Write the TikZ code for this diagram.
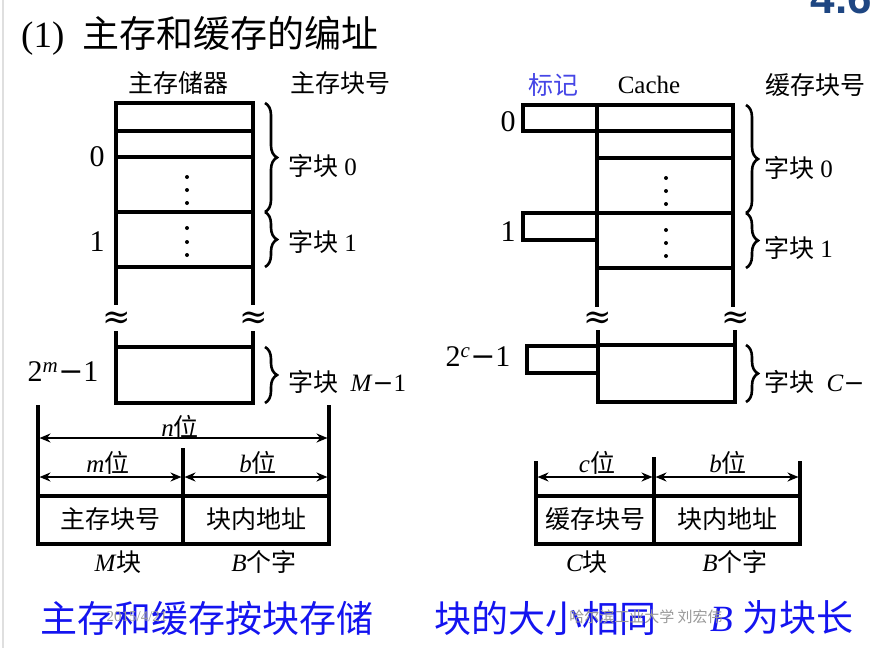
\documentclass[tikz,border=0pt]{standalone}
\usepackage{fontspec}
\setmainfont{Liberation Serif}
\newfontfamily\cjk{Noto Sans CJK SC}
\newfontfamily\numfont{Liberation Sans}
\newfontfamily\symfont{DejaVu Serif}
\usetikzlibrary{arrows.meta,decorations.pathreplacing}
\newcommand{\zh}[1]{{\cjk #1}}
\newcommand{\fs}[1]{\fontsize{#1}{#1}\selectfont}
\newcommand{\mn}{{\symfont −}}
\definecolor{blueTxt}{RGB}{20,20,240}
\definecolor{tagBlue}{RGB}{70,70,230}
\definecolor{numBlue}{RGB}{30,70,130}
\tikzset{
  frame/.style={line width=3.6pt, line cap=rect},
  brc/.style={decorate, decoration={brace, amplitude=12pt}, line width=2.6pt},
  dim/.style={line width=2.8pt, {Stealth[length=11pt,width=9pt]}-{Stealth[length=11pt,width=9pt]}},
  ext/.style={line width=3.2pt},
  lbl/.style={inner sep=0pt, font=\fs{25}},
  big/.style={inner sep=0pt, font=\fs{30}},
  apx/.style={inner sep=0pt, font=\symfont\fs{34}},
  head/.style={inner sep=0pt, font=\fs{25}},
  blu/.style={inner sep=0pt, font=\fs{37}, text=blueTxt},
  wm/.style={inner sep=0pt, font=\fs{15}, text=gray!80},
}
\begin{document}
\begin{tikzpicture}[x=1pt,y=-1pt]
\useasboundingbox (0,0) rectangle (877,648);
\fill[white] (0,0) rectangle (877,648);
\begin{scope}
\clip (0,0) rectangle (877,648);
\draw[gray!25, line width=1.2pt] (3,0) -- (3,648);
% slide number fragment
\node[anchor=south east, inner sep=0pt, text=numBlue, font=\numfont\bfseries\fs{44}] (slideno) at (872,14) {4.6};

% title
\node[anchor=west, inner sep=0pt, font=\fs{37}] (title) at (21,36) {(1)\hspace{18pt}\zh{主存和缓存的编址}};

% ===== left: main memory =====
\node[head] (hMem) at (178,83) {\zh{主存储器}};
\node[head] (hMemNo) at (340,83) {\zh{主存块号}};

\draw[frame] (116,303) -- (116,103) -- (253,103) -- (253,303);
\draw[frame] (116,131) -- (253,131);
\draw[frame] (116,157) -- (253,157);
\draw[frame] (116,212) -- (253,212);
\draw[frame] (116,267) -- (253,267);
\foreach \yy in {177,190,203,228,242,255} \fill (187,\yy) circle (2pt);
\node[apx] (apL1) at (117,320) {≈};
\node[apx] (apL2) at (254,320) {≈};
\draw[frame] (116,333) -- (116,403) -- (253,403) -- (253,333);
\draw[frame] (116,347) -- (253,347);

\node[big] (l0) at (97,157) {0};
\node[big] (l1) at (97,242) {1};
\node[big] (lm) at (63,372) {2\textsuperscript{\textit{m}}\mn1};

\draw[brc] (265,103) -- (265,212);
\draw[brc] (265,212) -- (265,267);
\draw[brc] (265,347) -- (265,403);
\node[lbl, anchor=west] (b0) at (288,166) {\zh{字块} 0};
\node[lbl, anchor=west] (b1) at (288,242) {\zh{字块} 1};
\node[lbl, anchor=west] (bM) at (288,382) {\zh{字块}\ \ \textit{M}\mn1};

% address format left
\coordinate (eL1) at (38,405);  \coordinate (eL2) at (38,496);
\coordinate (eR1) at (329,405); \coordinate (eR2) at (329,496);
\coordinate (eM1) at (183,448); \coordinate (eM2) at (183,496);
\draw[ext] (eL1) -- (eL2);
\draw[ext] (eR1) -- (eR2);
\draw[ext] (eM1) -- (eM2);
\coordinate (nA) at (39.5,438); \coordinate (nB) at (327.5,438);
\coordinate (mA) at (39.5,477); \coordinate (mB) at (181.5,477);
\coordinate (bA) at (184.5,477); \coordinate (bB) at (327.5,477);
\draw[dim] (nA) -- (nB);
\draw[dim] (mA) -- (mB);
\draw[dim] (bA) -- (bB);
\node[lbl] (nbit) at (180,427) {\textit{n}\zh{位}};
\node[lbl] (mbit) at (108,463) {\textit{m}\zh{位}};
\node[lbl] (bbit) at (258,463) {\textit{b}\zh{位}};
\draw[frame] (38,496) rectangle (329,544);
\draw[frame] (183,496) -- (183,544);
\node[lbl] (fMem) at (110,519) {\zh{主存块号}};
\node[lbl] (fOff) at (256,519) {\zh{块内地址}};
\node[lbl] (Mblk) at (118,562) {\textit{M}\zh{块}};
\node[lbl] (Bw) at (264,562) {\textit{B}\zh{个字}};

% ===== right: cache =====
\node[head, text=tagBlue] (hTag) at (553,85) {\zh{标记}};
\node[head] (hCache) at (649,85) {Cache};
\node[head] (hCNo) at (815,85) {\zh{缓存块号}};

\draw[frame] (523,105) rectangle (597,131);
\draw[frame] (523,213) rectangle (597,240);
\draw[frame] (527,346) rectangle (598,373);

\draw[frame] (597,305) -- (597,105) -- (733,105) -- (733,305);
\draw[frame] (597,131) -- (733,131);
\draw[frame] (597,158) -- (733,158);
\draw[frame] (597,213) -- (733,213);
\draw[frame] (597,268) -- (733,268);
\foreach \yy in {178,191,204,230,243,256} \fill (666,\yy) circle (2pt);
\node[apx] (apR1) at (598,320) {≈};
\node[apx] (apR2) at (736,320) {≈};
\draw[frame] (598,332) -- (598,402) -- (735,402) -- (735,332);
\draw[frame] (598,345) -- (735,345);

\node[big] (r0) at (508,122) {0};
\node[big] (r1) at (508,232) {1};
\node[big] (rc) at (478,357) {2\textsuperscript{\textit{c}}\mn1};

\draw[brc] (746,105) -- (746,213);
\draw[brc] (746,213) -- (746,268);
\draw[brc] (746,345) -- (746,402);
\node[lbl, anchor=west] (c0) at (764,168) {\zh{字块} 0};
\node[lbl, anchor=west] (c1) at (764,248) {\zh{字块} 1};
\node[lbl, anchor=west] (cC) at (764,382) {\zh{字块}\ \ \textit{C}\mn};

% address format right
\coordinate (fL1) at (536,461); \coordinate (fL2) at (536,496);
\coordinate (fM1) at (654,457); \coordinate (fM2) at (654,496);
\coordinate (fR1) at (800,461); \coordinate (fR2) at (800,496);
\draw[ext] (fL1) -- (fL2);
\draw[ext] (fM1) -- (fM2);
\draw[ext] (fR1) -- (fR2);
\coordinate (cA) at (537.5,477); \coordinate (cB) at (652.5,477);
\coordinate (dA) at (655.5,477); \coordinate (dB) at (798.5,477);
\draw[dim] (cA) -- (cB);
\draw[dim] (dA) -- (dB);
\node[lbl] (cbit) at (597,463) {\textit{c}\zh{位}};
\node[lbl] (bbit2) at (728,463) {\textit{b}\zh{位}};
\draw[frame] (536,496) rectangle (800,544);
\draw[frame] (654,496) -- (654,544);
\node[lbl] (fCNo) at (595,519) {\zh{缓存块号}};
\node[lbl] (fOff2) at (727,519) {\zh{块内地址}};
\node[lbl] (Cblk) at (587,562) {\textit{C}\zh{块}};
\node[lbl] (Bw2) at (735,562) {\textit{B}\zh{个字}};

% bottom blue sentence
\node[blu, anchor=west] (s1) at (40,618) {\zh{主存和缓存按块存储}};
\node[blu, anchor=west] (s2) at (434,618) {\zh{块的大小相同}};
\node[blu, anchor=west] (s3) at (710,618) {\textit{B}\ \zh{为块长}};

% watermarks
\node[wm] (wm1) at (137,617) {2015/4/21};
\node[wm] (wm2) at (646,617) {\zh{哈尔滨工业大学\ 刘宏伟}};
\end{scope}
\end{tikzpicture}
\end{document}
